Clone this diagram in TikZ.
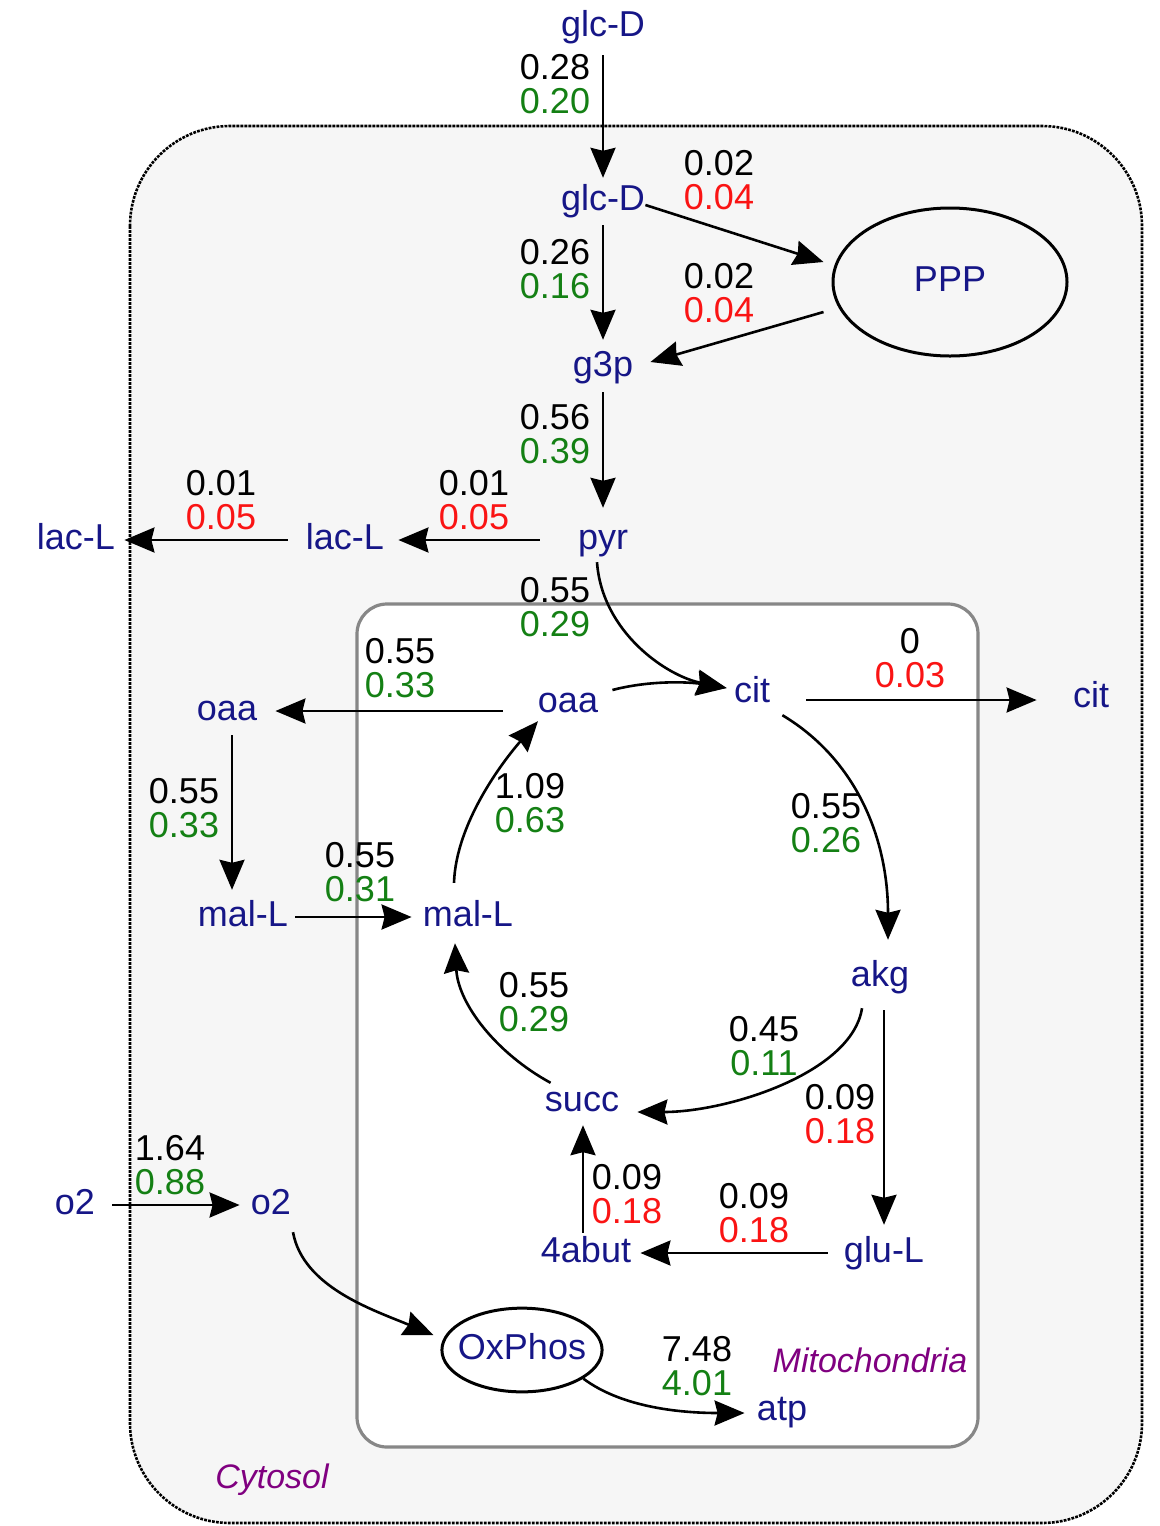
\documentclass[tikz,border=0pt]{standalone}
\usepackage{fontspec}
\setmainfont{Liberation Sans}
\usetikzlibrary{shapes.geometric,arrows.meta}
\definecolor{nameblue}{RGB}{22,22,135}
\definecolor{numgreen}{RGB}{20,128,20}
\definecolor{numred}{RGB}{250,20,20}
\definecolor{labpurple}{RGB}{128,0,128}
\definecolor{cytofill}{RGB}{246,246,246}
\definecolor{mitoline}{RGB}{135,135,135}
\begin{document}
\begin{tikzpicture}[x=0.5pt,y=0.5pt,
  met/.style={text=nameblue, font=\fontsize{18}{17}\selectfont, inner sep=0pt, text height=13pt, text depth=3.8pt},
  num/.style={align=center, font=\fontsize{18}{17}\selectfont, inner sep=0pt},
  arr/.style={line width=1.3pt, -{Stealth[length=15pt,width=12.5pt,inset=1.5pt]}},
  comp/.style={text=labpurple, font=\fontsize{17}{17}\selectfont\itshape, inner sep=0pt}]
\useasboundingbox[fill=white] (0,0) rectangle (1160,-1526);
% compartments
\draw[line width=1.3pt, dash pattern=on 1.4pt off 0.6pt, fill=cytofill, rounded corners=50pt] (130,-126) rectangle (1142,-1523);
\draw[line width=1.6pt, draw=mitoline, fill=white, rounded corners=15pt] (357,-604) rectangle (978,-1447);
\node[comp] (cytlab) at (272,-1480) {Cytosol};
\node[comp] (mitlab) at (870,-1360) {Mitochondria};
% metabolites
\node[met] (glcA) at (603,-27) {glc-D};
\node[met] (glcB) at (603,-201) {glc-D};
\node[met] (g3p) at (603,-367) {g3p};
\node[met] (pyr) at (603,-540) {pyr};
\node[met] (lacA) at (345,-540) {lac-L};
\node[met] (lacB) at (76,-540) {lac-L};
\node[met, draw=black, text=nameblue, ellipse, line width=1.5pt, minimum width=117pt, minimum height=74pt] (ppp) at (950,-282) {PPP};
\node[met] (cit) at (752,-693) {cit};
\node[met] (citO) at (1091,-698) {cit};
\node[met] (oaaM) at (568,-703) {oaa};
\node[met] (oaaC) at (227,-711) {oaa};
\node[met] (malC) at (243,-917) {mal-L};
\node[met] (malM) at (468,-917) {mal-L};
\node[met] (akg) at (880,-977) {akg};
\node[met] (succ) at (582,-1102) {succ};
\node[met] (glu) at (884,-1253) {glu-L};
\node[met] (abut) at (586,-1253) {4abut};
\node[met] (o2O) at (75,-1205) {o2};
\node[met] (o2I) at (271,-1205) {o2};
\node[met, draw=black, ellipse, line width=1.5pt, inner xsep=-3.7pt, inner ysep=6.4pt] (ox) at (522,-1350) {OxPhos};
\node[met] (atp) at (782,-1411) {atp};
% flux labels
\node[num] (l1) at (555,-84.5) {0.28\\\textcolor{numgreen}{0.20}};
\node[num] (l2) at (719,-180.5) {0.02\\\textcolor{numred}{0.04}};
\node[num] (l3) at (555,-269.5) {0.26\\\textcolor{numgreen}{0.16}};
\node[num] (l4) at (719,-293.5) {0.02\\\textcolor{numred}{0.04}};
\node[num] (l5) at (555,-434.5) {0.56\\\textcolor{numgreen}{0.39}};
\node[num] (l6) at (474,-500.5) {0.01\\\textcolor{numred}{0.05}};
\node[num] (l7) at (221,-500.5) {0.01\\\textcolor{numred}{0.05}};
\node[num] (l8) at (555,-607.5) {0.55\\\textcolor{numgreen}{0.29}};
\node[num] (l9) at (910,-658.5) {0\\\textcolor{numred}{0.03}};
\node[num] (l10) at (400,-668) {0.55\\\textcolor{numgreen}{0.33}};
\node[num] (l11) at (184,-808) {0.55\\\textcolor{numgreen}{0.33}};
\node[num] (l12) at (360,-872.5) {0.55\\\textcolor{numgreen}{0.31}};
\node[num] (l13) at (530,-803) {1.09\\\textcolor{numgreen}{0.63}};
\node[num] (l14) at (826,-823) {0.55\\\textcolor{numgreen}{0.26}};
\node[num] (l15) at (534,-1002) {0.55\\\textcolor{numgreen}{0.29}};
\node[num] (l16) at (764,-1046) {0.45\\\textcolor{numgreen}{0.11}};
\node[num] (l17) at (840,-1114) {0.09\\\textcolor{numred}{0.18}};
\node[num] (l18) at (627,-1194) {0.09\\\textcolor{numred}{0.18}};
\node[num] (l19) at (754,-1213) {0.09\\\textcolor{numred}{0.18}};
\node[num] (l20) at (170,-1165) {1.64\\\textcolor{numgreen}{0.88}};
\node[num] (l21) at (697,-1366) {7.48\\\textcolor{numgreen}{4.01}};
% connectors
\draw[arr] ([shift={(0,-11)}]glcA.south) -- ([shift={(0,6)}]glcB.north);
\draw[arr] ([shift={(0,-4)}]glcB.east) -- ([shift={(-8,20)}]ppp.west);
\draw[arr] ([shift={(-8,-30)}]ppp.west) -- ([shift={(17,5)}]g3p.east);
\draw[arr] ([shift={(0,-7)}]glcB.south) -- ([shift={(0,10)}]g3p.north);
\draw[arr] ([shift={(0,-8)}]g3p.south) -- ([shift={(0,15)}]pyr.north);
\draw[arr] ([shift={(-38,0)}]pyr.west) -- ([shift={(14,0)}]lacA.east);
\draw[arr] ([shift={(-18,0)}]lacA.west) -- ([shift={(9,0)}]lacB.east);
\draw[arr] ([shift={(-6,-5)}]pyr.south) .. controls +(5,-70) and +(-60,12) .. ([shift={(-7,5)}]cit.west);
\draw[arr] ([shift={(14,13)}]oaaM.east) .. controls +(38,10) and +(-37,6) .. ([shift={(-7,5)}]cit.west);
\draw[arr] ([shift={(36,-7)}]cit.east) -- ([shift={(-36,-2)}]citO.west);
\draw[arr] ([shift={(-35,-8)}]oaaM.west) -- ([shift={(18,0)}]oaaC.east);
\draw[arr] ([shift={(5,-7)}]oaaC.south) -- ([shift={(-11,10)}]malC.north);
\draw[arr] ([shift={(7,0)}]malC.east) -- ([shift={(-11,0)}]malM.west);
\draw[arr] ([shift={(-14,17)}]malM.north) .. controls +(2,60) and +(-35,-40) .. ([shift={(-30,-1)}]oaaM.south);
\draw[arr] ([shift={(12,-5)}]cit.south east) .. controls +(75,-45) and +(0,100) .. ([shift={(8,20)}]akg.north);
\draw[arr] ([shift={(-18,-14)}]akg.south) .. controls +(-10,-65) and +(90,0) .. ([shift={(18,-10)}]succ.east);
\draw[arr] ([shift={(6,2)}]succ.north west) .. controls +(-55,30) and +(3,-60) .. ([shift={(-13,-9)}]malM.south);
\draw[arr] ([shift={(4,-16)}]akg.south) -- ([shift={(0,11)}]glu.north);
\draw[arr] ([shift={(-16,0)}]glu.west) -- ([shift={(9,0)}]abut.east);
\draw[arr] ([shift={(-3,3)}]abut.north) -- ([shift={(1,-6)}]succ.south);
\draw[arr] ([shift={(17,0)}]o2O.east) -- ([shift={(-11,0)}]o2I.west);
\draw[arr] ([shift={(22,-10)}]o2I.south) .. controls +(10,-55) and +(-60,25) .. ([shift={(-7,15)}]ox.west);
\draw[arr] (ox.-25) .. controls +(40,-30) and +(-60,0) .. ([shift={(-12,-2)}]atp.west);
\end{tikzpicture}
\end{document}
